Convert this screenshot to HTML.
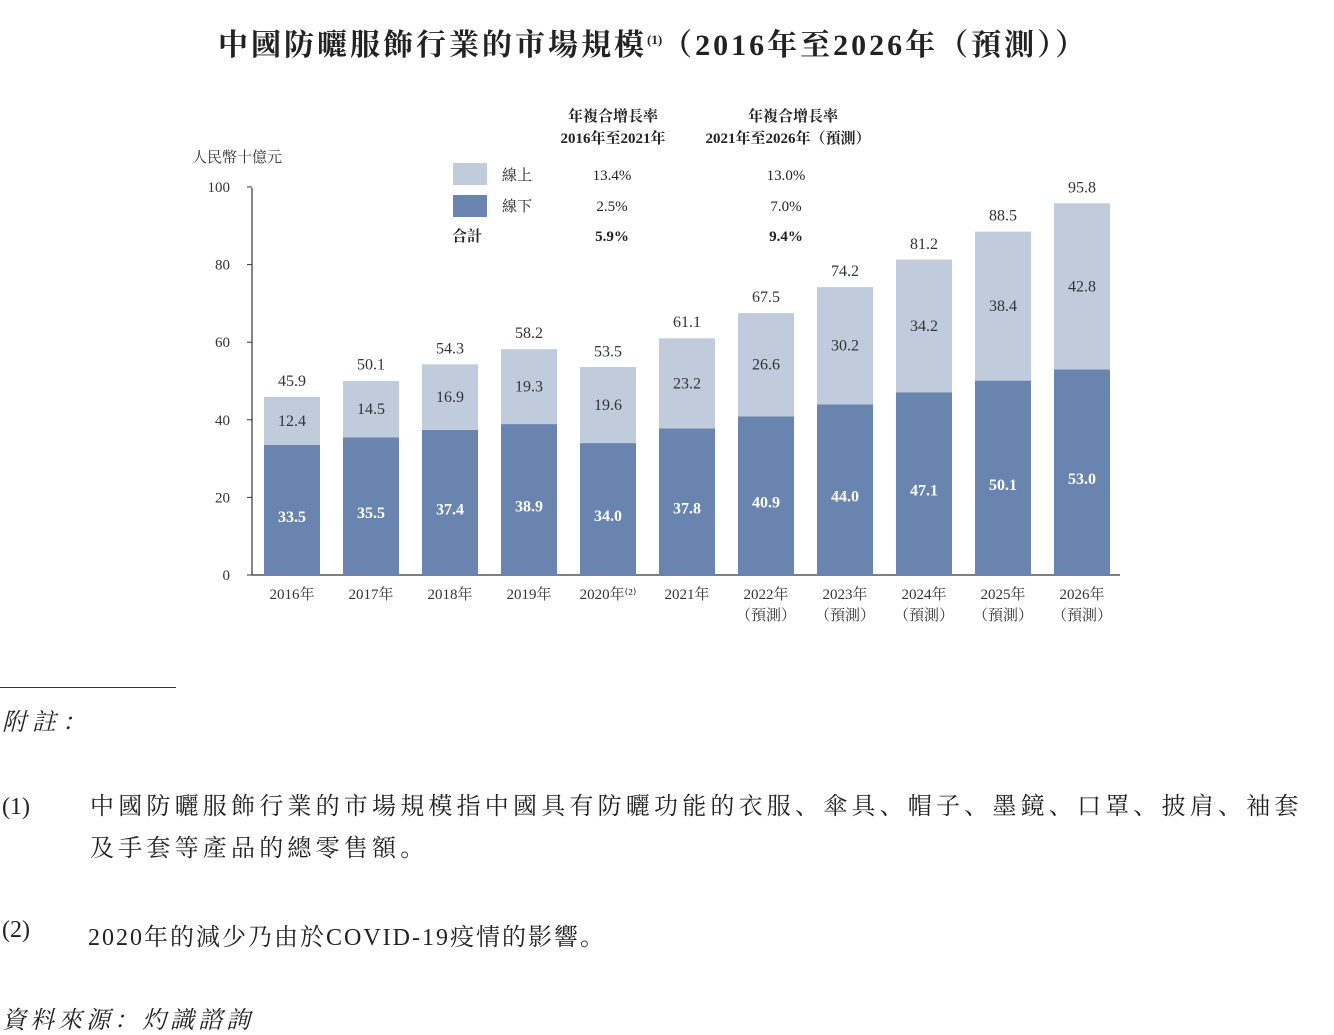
<!DOCTYPE html>
<html><head><meta charset="utf-8">
<style>
body{margin:0;width:1334px;height:1028px;background:#fff;overflow:hidden;font-family:"Liberation Serif","Noto Serif CJK SC",serif;color:#222}
.t{position:absolute;white-space:nowrap}
</style></head>
<body>
<div class="t" style="left:218px;top:20px;font-size:30px;font-weight:bold;letter-spacing:3px">中國防曬服飾行業的市場規模<sup style="font-size:13px;letter-spacing:0">(1)</sup>（2016年至2026年（預測））</div>
<svg width="1334" height="1028" style="position:absolute;left:0;top:0">
<g id="g"></g>
</svg>
<div class="t" style="left:0;top:687px;width:176px;border-top:1px solid #333"></div>
<div class="t" style="left:2px;top:702px;font-size:24px;font-style:italic;letter-spacing:6px">附註：</div>
<div class="t" style="left:2px;top:786px;font-size:24px;line-height:42px">(1)<span style="position:absolute;left:88px;letter-spacing:4.2px">中國防曬服飾行業的市場規模指中國具有防曬功能的衣服、傘具、帽子、墨鏡、口罩、披肩、袖套<br>及手套等產品的總零售額。</span></div>
<div class="t" style="left:2px;top:917px;font-size:24px">(2)<span style="position:absolute;left:86px;letter-spacing:2px">2020年的減少乃由於COVID-19疫情的影響。</span></div>
<div class="t" style="left:2px;top:1000px;font-size:24px;font-style:italic;letter-spacing:4px">資料來源：灼識諮詢</div>
<script>
const years=["2016年","2017年","2018年","2019年","2020年","2021年","2022年","2023年","2024年","2025年","2026年"];
const offline=[33.5,35.5,37.4,38.9,34.0,37.8,40.9,44.0,47.1,50.1,53.0];
const online=[12.4,14.5,16.9,19.3,19.6,23.2,26.6,30.2,34.2,38.4,42.8];
const totals=[45.9,50.1,54.3,58.2,53.5,61.1,67.5,74.2,81.2,88.5,95.8];
const yTicks=[0,20,40,60,80,100];
const NS="http://www.w3.org/2000/svg";
const g=document.getElementById('g');
const y=v=>575-3.88*v;
const x=i=>292+79*i;
const BW=56;
function el(t,a,txt){const e=document.createElementNS(NS,t);for(const k in a)e.setAttribute(k,a[k]);if(txt!==undefined)e.textContent=txt;g.appendChild(e);return e;}
const ff='"Liberation Serif","Noto Serif CJK SC",serif';
let e;
e=el('line',{x1:252,y1:188,x2:252,y2:575,stroke:'#333','stroke-width':1.2});

e=el('line',{x1:252,y1:575,x2:1120,y2:575,stroke:'#333','stroke-width':1.2});

yTicks.forEach(v=>{
 e=el('text',{x:230,y:y(v)+5,'text-anchor':'end','font-size':15,'font-family':ff,fill:'#333'},v);
 
 e=el('line',{x1:247,y1:y(v),x2:252,y2:y(v),stroke:'#333'});
 
});
e=el('text',{x:192,y:162,'font-size':15,'font-family':ff,fill:'#333'},'人民幣十億元');

years.forEach((yr,i)=>{
 const cx=x(i);
 e=el('rect',{x:cx-BW/2,y:y(offline[i]),width:BW,height:y(0)-y(offline[i]),fill:'#6984ae'});
 
 e=el('rect',{x:cx-BW/2,y:y(offline[i]+online[i]),width:BW,height:y(offline[i])-y(offline[i]+online[i]),fill:'#c0cbdc'});
 
 e=el('text',{x:cx,y:(y(0)+y(offline[i]))/2+12,'text-anchor':'middle','font-size':16,'font-weight':'bold','font-family':ff,fill:'#fff'},offline[i].toFixed(1));
 
 e=el('text',{x:cx,y:(y(offline[i])+y(offline[i]+online[i]))/2+5,'text-anchor':'middle','font-size':16,'font-family':ff,fill:'#333'},online[i].toFixed(1));
 
 e=el('text',{x:cx,y:y(totals[i])-11,'text-anchor':'middle','font-size':16,'font-family':ff,fill:'#333'},totals[i].toFixed(1));
 
 e=el('text',{x:cx,y:599,'text-anchor':'middle','font-size':15,'font-family':ff,fill:'#333'},yr+(i===4?'⁽²⁾':''));
 
 if(i>=6){e=el('text',{x:cx,y:620,'text-anchor':'middle','font-size':15,'font-family':ff,fill:'#333'},'（預測）');
 }
});
const L=[['年複合增長率',613,121],['2016年至2021年',613,143],['年複合增長率',793,121],['2021年至2026年（預測）',788,143]];
L.forEach(l=>{e=el('text',{x:l[1],y:l[2],'text-anchor':'middle','font-size':15,'font-weight':'bold','font-family':ff,fill:'#222'},l[0]);
});
e=el('rect',{x:453,y:163,width:34,height:22,fill:'#c0cbdc'});
e=el('rect',{x:453,y:195,width:34,height:22,fill:'#6984ae'});
const rows=[['線上','13.4%','13.0%',180,false],['線下','2.5%','7.0%',211,false],['合計','5.9%','9.4%',241,true]];
rows.forEach((r,k)=>{
 e=el('text',{x:k===2?452:502,y:r[3],'font-size':15,'font-weight':r[4]?'bold':'normal','font-family':ff,fill:'#222'},r[0]);
 
 e=el('text',{x:612,y:r[3],'text-anchor':'middle','font-size':15,'font-weight':r[4]?'bold':'normal','font-family':ff,fill:'#222'},r[1]);
 
 e=el('text',{x:786,y:r[3],'text-anchor':'middle','font-size':15,'font-weight':r[4]?'bold':'normal','font-family':ff,fill:'#222'},r[2]);
 
});
</script>
</body></html>
